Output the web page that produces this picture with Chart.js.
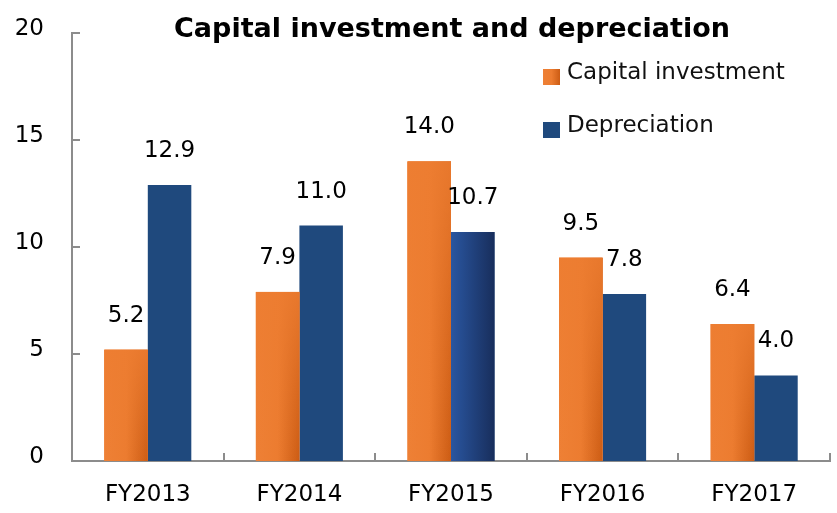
<!DOCTYPE html>
<html>
<head>
<meta charset="utf-8">
<script src="https://cdn.jsdelivr.net/npm/chart.js@4"></script>
<style>
html,body{margin:0;padding:0;background:#fff;}
#wrap{width:837px;height:513px;position:relative;}
</style>
</head>
<body>
<div id="wrap"><canvas id="c" width="837" height="513"></canvas></div>
<script>
const chartTitle = 'Capital investment and depreciation';
const categories = ['FY2013', 'FY2014', 'FY2015', 'FY2016', 'FY2017'];
const seriesNames = ['Capital investment', 'Depreciation'];
const capitalInvestment = [5.2, 7.9, 14.0, 9.5, 6.4];
const depreciation = [12.9, 11.0, 10.7, 7.8, 4.0];
const yTicks = [0, 5, 10, 15, 20];

const ORANGE = '#ED7D31';
const BLUE = '#1F497D';
const AXIS = '#8C8C8C';

function orangeGrad(ctx, l, r) {
  const g = ctx.createLinearGradient(l, 0, r, 0);
  g.addColorStop(0, '#EE8035');
  g.addColorStop(0.5, '#EC7C30');
  g.addColorStop(1, '#CC5C14');
  return g;
}
function blueGrad(ctx, l, r) {
  const g = ctx.createLinearGradient(l, 0, r, 0);
  g.addColorStop(0, '#2A56A0');
  g.addColorStop(1, '#182E5C');
  return g;
}

const decor = {
  id: 'decor',
  afterDatasetsDraw(chart) {
    const ctx = chart.ctx;
    ctx.save();
    chart.data.datasets.forEach((ds, di) => {
      const meta = chart.getDatasetMeta(di);
      meta.data.forEach((bar, i) => {
        const p = bar.getProps(['x', 'y', 'base', 'width'], true);
        const l = p.x - p.width / 2, r = p.x + p.width / 2;
        if (di === 0) {
          ctx.fillStyle = orangeGrad(ctx, l, r);
          ctx.fillRect(l, p.y, r - l, p.base - p.y);
          const v = ctx.createLinearGradient(0, p.y, 0, p.base);
          v.addColorStop(0, 'rgba(237,125,49,0.85)');
          v.addColorStop(1, 'rgba(237,125,49,0)');
          ctx.fillStyle = v;
          ctx.fillRect(l, p.y, r - l, p.base - p.y);
        } else if (i === 2) {
          ctx.fillStyle = blueGrad(ctx, l, r);
          ctx.fillRect(l, p.y, r - l, p.base - p.y);
        }
      });
    });
    ctx.restore();
  },
  afterDraw(chart) {
    const ctx = chart.ctx;
    const xs = chart.scales.x, ys = chart.scales.y;
    const area = chart.chartArea;
    ctx.save();
    ctx.strokeStyle = AXIS;
    ctx.lineWidth = 2;
    yTicks.forEach(v => {
      if (v === 0) return;
      const y = Math.round(ys.getPixelForValue(v));
      ctx.beginPath();
      ctx.moveTo(area.left, y);
      ctx.lineTo(area.left + 8, y);
      ctx.stroke();
    });
    for (let i = 1; i <= categories.length; i++) {
      const x = Math.round(xs.getPixelForValue(i - 0.5));
      ctx.beginPath();
      ctx.moveTo(x, area.bottom);
      ctx.lineTo(x, area.bottom - 8);
      ctx.stroke();
    }
    ctx.fillStyle = '#000';
    ctx.font = '23px "DejaVu Sans"';
    ctx.textAlign = 'center';
    ctx.textBaseline = 'alphabetic';
    chart.data.datasets.forEach((ds, di) => {
      const meta = chart.getDatasetMeta(di);
      meta.data.forEach((bar, i) => {
        ctx.fillText(ds.data[i].toFixed(1), bar.x, bar.y - 28);
      });
    });
    ctx.font = 'bold 27px "DejaVu Sans"';
    ctx.fillText(chartTitle, (area.left + area.right) / 2 + 1, 37);
    ctx.textAlign = 'left';
    ctx.textBaseline = 'middle';
    ctx.font = '23px "DejaVu Sans"';
    const legY = [77, 130];
    seriesNames.forEach((name, k) => {
      const y = legY[k];
      ctx.fillStyle = k === 0 ? orangeGrad(ctx, 543, 560) : BLUE;
      ctx.fillRect(543, y - 8, 17, 16);
      ctx.fillStyle = '#111';
      ctx.fillText(name, 567, y - 4);
    });
    ctx.restore();
  }
};

new Chart(document.getElementById('c'), {
  type: 'bar',
  data: {
    labels: categories,
    datasets: [
      { label: seriesNames[0], data: capitalInvestment, backgroundColor: ORANGE, borderWidth: 0 },
      { label: seriesNames[1], data: depreciation, backgroundColor: BLUE, borderWidth: 0 }
    ]
  },
  options: {
    responsive: false,
    animation: false,
    events: [],
    datasets: { bar: { categoryPercentage: 0.574, barPercentage: 1.0 } },
    layout: { padding: { left: 0, right: 7, top: 33, bottom: 0 } },
    plugins: { legend: { display: false }, title: { display: false }, tooltip: { enabled: false } },
    scales: {
      x: {
        type: 'category',
        offset: true,
        afterFit(s) { s.height = 52; },
        grid: { display: false, drawTicks: false },
        border: { display: true, color: AXIS, width: 2 },
        ticks: { color: '#000', font: { family: 'DejaVu Sans', size: 23 }, padding: 20 }
      },
      y: {
        min: 0, max: 20,
        afterBuildTicks(s) { s.ticks = yTicks.map(v => ({ value: v })); },
        afterFit(s) { s.width = 72; s.paddingTop = 12; s.paddingBottom = 12; },
        grid: { display: false, drawTicks: false },
        border: { display: true, color: AXIS, width: 2 },
        ticks: { color: '#000', font: { family: 'DejaVu Sans', size: 23 }, padding: 28, labelOffset: -4 }
      }
    }
  },
  plugins: [decor]
});
</script>
</body>
</html>
